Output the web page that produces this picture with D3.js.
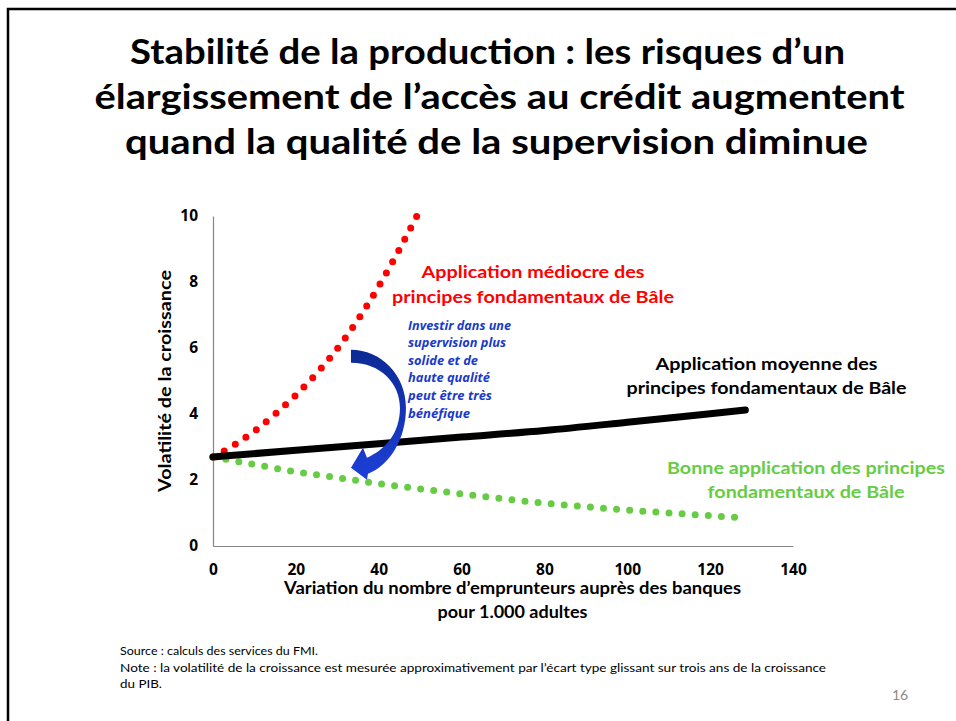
<!DOCTYPE html>
<meta charset="utf-8">
<head>
  <style>
    body { margin: 0; background: #fff; }
    svg { display: block; }
    text { font-family: Lato, "Open Sans", sans-serif; }
    .tick text { font-family: "Open Sans", sans-serif; font-weight: bold; font-size: 15.5px; fill: #000; }
    .domain { stroke: #868686; stroke-width: 1.2; }
  </style>
</head>
<body>
<svg id="chart" width="956" height="721"></svg>
<script src="https://d3js.org/d3.v7.min.js"></script>
<script>

// values
var redX   = [0, 5, 10, 15, 20, 25, 30, 35, 40, 45, 49.2];
var redY   = [2.7, 3.05, 3.48, 4.0, 4.57, 5.23, 5.98, 6.86, 7.87, 8.99, 10];
var blackX = [0, 20, 40, 60, 80, 100, 120, 128.5];
var blackY = [2.7, 2.9, 3.1, 3.3, 3.5, 3.75, 4.01, 4.12];
var greenX = [0, 10, 20, 30, 40, 50, 60, 70, 80, 90, 100, 110, 120, 126];
var greenY = [2.7, 2.47, 2.25, 2.07, 1.89, 1.73, 1.58, 1.43, 1.3, 1.19, 1.09, 1.0, 0.92, 0.87];
var xTicks = [0, 20, 40, 60, 80, 100, 120, 140];
var yTicks = [0, 2, 4, 6, 8, 10];

var titleLines = ["Stabilité de la production : les risques d\u2019un",
                  "élargissement de l\u2019accès au crédit augmentent",
                  "quand la qualité de la supervision diminue"];
var redLabel   = ["Application médiocre des", "principes fondamentaux de Bâle"];
var blackLabel = ["Application moyenne des", "principes fondamentaux de Bâle"];
var greenLabel = ["Bonne application des principes", "fondamentaux de Bâle"];
var blueNote   = ["Investir dans une", "supervision plus", "solide et de",
                  "haute qualité", "peut être très", "bénéfique"];
var yTitle  = "Volatilité de la croissance";
var xTitle  = ["Variation du nombre d\u2019emprunteurs auprès des banques", "pour 1.000 adultes"];
var notes   = ["Source : calculs des services du FMI.",
               "Note : la volatilité de la croissance est mesurée approximativement par l\u2019écart type glissant sur trois ans de la croissance",
               "du PIB."];
var pageNum = "16";

var svg = d3.select("#chart");

var x = d3.scaleLinear().domain([0, 140]).range([213, 793]);
var y = d3.scaleLinear().domain([0, 10]).range([546, 216]);

// squeeze a text to the width it has in the slide
function fit(t, w) {
  var l = t.node().getComputedTextLength();
  if (Math.abs(l - w) > 1) t.attr("textLength", w).attr("lengthAdjust", "spacingAndGlyphs");
  return t;
}

function label(lines, cx, y0, dy, widths, opts) {
  lines.forEach(function(s, i) {
    var t = svg.append("text")
      .attr("x", cx).attr("y", y0 + i * dy)
      .attr("text-anchor", opts.anchor || "middle")
      .style("font-size", opts.size + "px")
      .style("font-weight", opts.weight || "bold")
      .style("font-style", opts.style || "normal")
      .style("fill", opts.color || "#000")
      .text(s);
    if (opts.family) t.style("font-family", opts.family);
    fit(t, widths[i]);
  });
}

// dots spaced so that one lands on each end of the line
function dotted(path, gap) {
  var len = path.node().getTotalLength();
  var n = Math.round(len / gap);
  path.attr("stroke-dasharray", "0," + ((len - 0.5) / n));
}

// slide frame
svg.append("path")
  .attr("d", "M8,721V9H956")
  .attr("fill", "none").attr("stroke", "#000").attr("stroke-width", 2.5);

// title
var titleCx = [487.5, 499.5, 496.5], titleW = [715, 810, 743];
titleLines.forEach(function(s, i) {
  var t = svg.append("text")
    .attr("x", titleCx[i]).attr("y", 64 + i * 45)
    .attr("text-anchor", "middle")
    .style("font-size", "35px").style("font-weight", "bold")
    .text(s);
  fit(t, titleW[i]);
});

// axes
svg.append("g").attr("transform", "translate(0," + y(0) + ")")
  .call(d3.axisBottom(x).tickValues(xTicks).tickSize(0).tickPadding(18));
svg.append("g").attr("transform", "translate(" + x(0) + ",0)")
  .call(d3.axisLeft(y).tickValues(yTicks).tickSize(0).tickPadding(15));

// series
var line = d3.line()
  .x(function(d) { return x(d[0]); })
  .y(function(d) { return y(d[1]); })
  .curve(d3.curveMonotoneX);

var red = svg.append("path")
  .datum(d3.zip(redX, redY))
  .attr("d", line)
  .attr("fill", "none").attr("stroke", "#ff0000")
  .attr("stroke-width", 7).attr("stroke-linecap", "round");
dotted(red, 12.9);

var green = svg.append("path")
  .datum(d3.zip(greenX, greenY))
  .attr("d", line)
  .attr("fill", "none").attr("stroke", "#66cc44")
  .attr("stroke-width", 7).attr("stroke-linecap", "round");
dotted(green, 13.3);

svg.append("path")
  .datum(d3.zip(blackX, blackY))
  .attr("d", line)
  .attr("fill", "none").attr("stroke", "#000")
  .attr("stroke-width", 7).attr("stroke-linecap", "round");

// curved arrow, placed from the tail point on the chart
var grad = svg.append("defs").append("linearGradient")
  .attr("id", "arrowGrad").attr("x1", 0).attr("y1", 0).attr("x2", 0).attr("y2", 1);
grad.append("stop").attr("offset", "0%").attr("stop-color", "#0c2a94");
grad.append("stop").attr("offset", "100%").attr("stop-color", "#1d3fd8");

var ax = x(33.3), ay = y(5.95);
var p = d3.path();
p.moveTo(ax, ay);
p.bezierCurveTo(ax + 30, ay, ax + 55, ay + 25, ax + 55, ay + 58);
p.bezierCurveTo(ax + 55, ay + 90, ax + 38, ay + 116, ax + 17, ay + 124);
p.lineTo(ax + 16, ay + 130);
p.lineTo(ax, ay + 118);
p.lineTo(ax + 12, ay + 98);
p.lineTo(ax + 16, ay + 108);
p.bezierCurveTo(ax + 34, ay + 100, ax + 49, ay + 84, ax + 49, ay + 58);
p.bezierCurveTo(ax + 49, ay + 34, ax + 30, ay + 13, ax, ay + 13);
p.closePath();
svg.append("path").attr("d", p.toString()).attr("fill", "url(#arrowGrad)");

// annotations
label(redLabel, 533, 278, 25, [223, 282], { size: 17, color: "#ff0000" });
label(blackLabel, 766.5, 370, 23.5, [222, 280], { size: 17, color: "#000" });
label(greenLabel, 806, 474, 23.5, [278, 197], { size: 17, color: "#66cc44" });
label(blueNote, 408, 329.5, 17.6, [103, 98, 70, 82, 84, 62],
      { size: 12.5, style: "italic", color: "#1a3acc", anchor: "start", family: "'Open Sans', sans-serif" });

// axis titles
var yt = svg.append("text")
  .attr("transform", "translate(171,381) rotate(-90)")
  .attr("text-anchor", "middle")
  .style("font-size", "16.5px").style("font-weight", "bold")
  .text(yTitle);
fit(yt, 222);
label(xTitle, 512.5, 594, 24, [457, 150], { size: 16.5 });

// footnotes
label(notes, 120, 655, 16.5, [198, 706, 42],
      { size: 12, weight: "normal", anchor: "start", color: "#000" });
svg.append("text")
  .attr("x", 900).attr("y", 700).attr("text-anchor", "middle")
  .style("font-size", "14px").style("fill", "#8a8a8a")
  .text(pageNum);
</script>
</body>
